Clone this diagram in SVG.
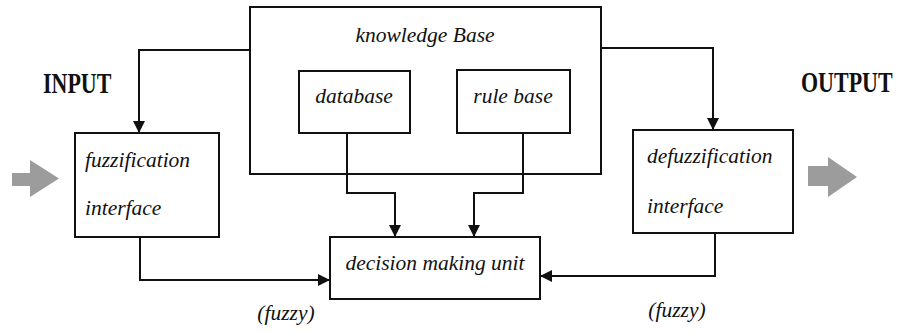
<svg xmlns="http://www.w3.org/2000/svg" width="897" height="332" viewBox="0 0 897 332">
<style>
.box{fill:#fff;stroke:#111;stroke-width:2}
.t{font-family:'Liberation Serif','Times New Roman',Times,serif;font-style:italic;font-size:21.5px;fill:#111}
.h{font-family:'Liberation Serif','Times New Roman',Times,serif;font-weight:bold;font-size:22px;fill:#111}
.c{fill:none;stroke:#111;stroke-width:2}
.g{fill:#9c9c9c}
</style>
<defs>
<marker id="ah" viewBox="0 0 12 12" refX="12" refY="6" markerWidth="12" markerHeight="12" markerUnits="userSpaceOnUse" orient="auto">
<path d="M0,0 L12,6 L0,12 Z" fill="#111"/>
</marker>
</defs>
<rect width="897" height="332" fill="#fff"/>
<g id="kb">
<rect class="box" x="250" y="7" width="351" height="167"/>
<text class="t" x="425" y="42" text-anchor="middle">knowledge Base</text>
</g>
<g id="database">
<rect class="box" x="299" y="71" width="111" height="62"/>
<text class="t" x="354" y="103" text-anchor="middle">database</text>
</g>
<g id="rulebase">
<rect class="box" x="457" y="70" width="113" height="63"/>
<text class="t" x="513" y="103" text-anchor="middle">rule base</text>
</g>
<g id="fuzz">
<rect class="box" x="75" y="133" width="144" height="104"/>
<text class="t" x="85" y="167">fuzzification</text>
<text class="t" x="85" y="215">interface</text>
</g>
<g id="defuzz">
<rect class="box" x="633" y="130" width="160" height="103"/>
<text class="t" x="647" y="163">defuzzification</text>
<text class="t" x="647" y="213">interface</text>
</g>
<g id="dmu">
<rect class="box" x="330" y="237" width="210" height="62"/>
<text class="t" x="435" y="270" text-anchor="middle">decision making unit</text>
</g>
<g id="input">
<text class="h" transform="translate(43,93) scale(1,1.32)">INPUT</text>
<path class="g" d="M12,173 L30,173 L30,160 L59,178.5 L30,197 L30,186 L12,186 Z"/>
</g>
<g id="output">
<text class="h" transform="translate(801,92) scale(1,1.32)">OUTPUT</text>
<path class="g" d="M808,166 L828,166 L828,157 L857,177 L828,197 L828,186 L808,186 Z"/>
</g>
<g id="labels">
<text class="t" x="286" y="320" text-anchor="middle">(fuzzy)</text>
<text class="t" x="677" y="317" text-anchor="middle">(fuzzy)</text>
</g>
<g id="connectors">
<path class="c" d="M250,50 H139 V133" marker-end="url(#ah)"/>
<path class="c" d="M601,48 H713 V130" marker-end="url(#ah)"/>
<path class="c" d="M140,237 V280 H330" marker-end="url(#ah)"/>
<path class="c" d="M715,233 V276 H540" marker-end="url(#ah)"/>
<path class="c" d="M347,133 V193 H395 V237" marker-end="url(#ah)"/>
<path class="c" d="M523,133 V193 H474 V237" marker-end="url(#ah)"/>
</g>
</svg>
